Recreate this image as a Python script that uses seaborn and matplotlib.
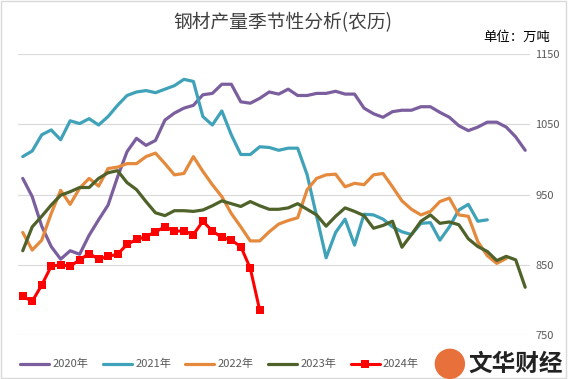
import numpy as np
import pandas as pd
import matplotlib
matplotlib.use('Agg')
import matplotlib.pyplot as plt
import seaborn as sns
from matplotlib.patches import Ellipse, Rectangle

# weekly steel output by lunar-calendar week, 10k tons
y2020 = [973, 947, 905, 876, 858, 870, 865, 892, 914, 935, 975, 1011, 1030, 1020,
         1027, 1056, 1066, 1073, 1077, 1092, 1094, 1107, 1107, 1082, 1080, 1087,
         1096, 1093, 1100, 1091, 1091, 1094, 1094, 1097, 1093, 1093, 1073, 1065,
         1060, 1068, 1070, 1070, 1075, 1075, 1067, 1060, 1048, 1041, 1046, 1053,
         1053, 1046, 1032, 1013]
y2021 = [1004, 1012, 1035, 1042, 1028, 1055, 1051, 1058, 1049, 1061, 1077, 1091,
         1096, 1098, 1095, 1100, 1105, 1114, 1111, 1061, 1049, 1069, 1035, 1007,
         1007, 1018, 1017, 1013, 1016, 1016, 978, 919, 860, 896, 915, 878, 922, 921,
         915, 904, 897, 893, 909, 910, 885, 904, 928, 936, 912, 914]
y2022 = [896, 871, 885, 923, 956, 936, 959, 973, 962, 987, 989, 994, 994, 1004,
         1009, 994, 978, 980, 1004, 983, 964, 947, 923, 904, 884, 884, 897, 908,
         913, 917, 957, 973, 978, 979, 961, 966, 964, 978, 980, 961, 941, 929, 921,
         926, 940, 945, 921, 919, 883, 863, 852, 859]
y2023 = [870, 904, 919, 935, 949, 954, 960, 960, 973, 981, 984, 967, 957, 940, 924,
         920, 927, 927, 926, 928, 934, 941, 937, 933, 940, 934, 929, 929, 931, 937,
         929, 921, 905, 919, 931, 926, 920, 902, 906, 912, 875, 893, 912, 921, 909,
         911, 907, 887, 876, 869, 856, 862, 857, 818]
y2024 = [805, 798, 821, 848, 850, 848, 857, 866, 858, 862, 865, 879, 886, 890, 897,
         904, 898, 898, 893, 912, 898, 889, 885, 876, 845, 785]

series = {'2020年': y2020, '2021年': y2021, '2022年': y2022, '2023年': y2023, '2024年': y2024}
colors = {'2020年': '#7B5E9E', '2021年': '#3FA2B8', '2022年': '#E58A3C',
          '2023年': '#4E6229', '2024年': '#FF0000'}

frames = []
for name, vals in series.items():
    frames.append(pd.DataFrame({'week': np.arange(len(vals)), 'value': vals, 'year': name}))
df = pd.concat(frames, ignore_index=True)

sns.set_theme(style='white')
plt.rcParams['font.family'] = ['Noto Sans CJK SC', 'DejaVu Sans']

fig = plt.figure(figsize=(5.68, 3.79), dpi=100)
ax = fig.add_axes([0.0317, 0.116, 0.9013, 0.7414])

for name in series:
    sub = df[df['year'] == name]
    if name == '2024年':
        sns.lineplot(data=sub, x='week', y='value', ax=ax, color=colors[name], lw=2.2,
                     marker='s', markersize=6, markeredgewidth=0, label=name)
    else:
        sns.lineplot(data=sub, x='week', y='value', ax=ax, color=colors[name], lw=2.3,
                     label=name)

ax.set_xlim(-0.5, 53.5)
ax.set_ylim(750, 1150)
ax.set_yticks([750, 850, 950, 1050, 1150])
ax.yaxis.tick_right()
ax.tick_params(axis='y', labelsize=8, labelcolor='#595959', length=0, pad=4)
ax.set_xticks([])
ax.set_xlabel('')
ax.set_ylabel('')
ax.grid(axis='y', color='#D9D9D9', lw=0.8)
for s in ax.spines.values():
    s.set_visible(False)

leg = ax.legend(loc='upper left', bbox_to_anchor=(-0.015, -0.05), ncol=5, frameon=False,
                fontsize=8, handlelength=2.6, columnspacing=1.3, handletextpad=0.3)
for t in leg.get_texts():
    t.set_color('#595959')

fig.text(0.498, 0.939, '钢材产量季节性分析(农历)', ha='center', va='center',
         fontsize=13.5, color='#404040')
fig.text(0.968, 0.902, '单位：万吨', ha='right', va='center', fontsize=9.6, color='#000000')

# logo
fig.patches.append(Ellipse((0.792, 0.04), 29 / 568, 29 / 379, transform=fig.transFigure,
                           color='#E8703A', zorder=5))
fig.text(0.991, 0.04, '文华财经', ha='right', va='center', fontsize=17,
         fontweight='bold', color='#222222')

# light frame around the picture
fig.patches.append(Rectangle((0.002, 0.003), 0.995, 0.994, transform=fig.transFigure,
                             fill=False, ec='#D9D9D9', lw=1))

fig.savefig('out.png', dpi=100)
